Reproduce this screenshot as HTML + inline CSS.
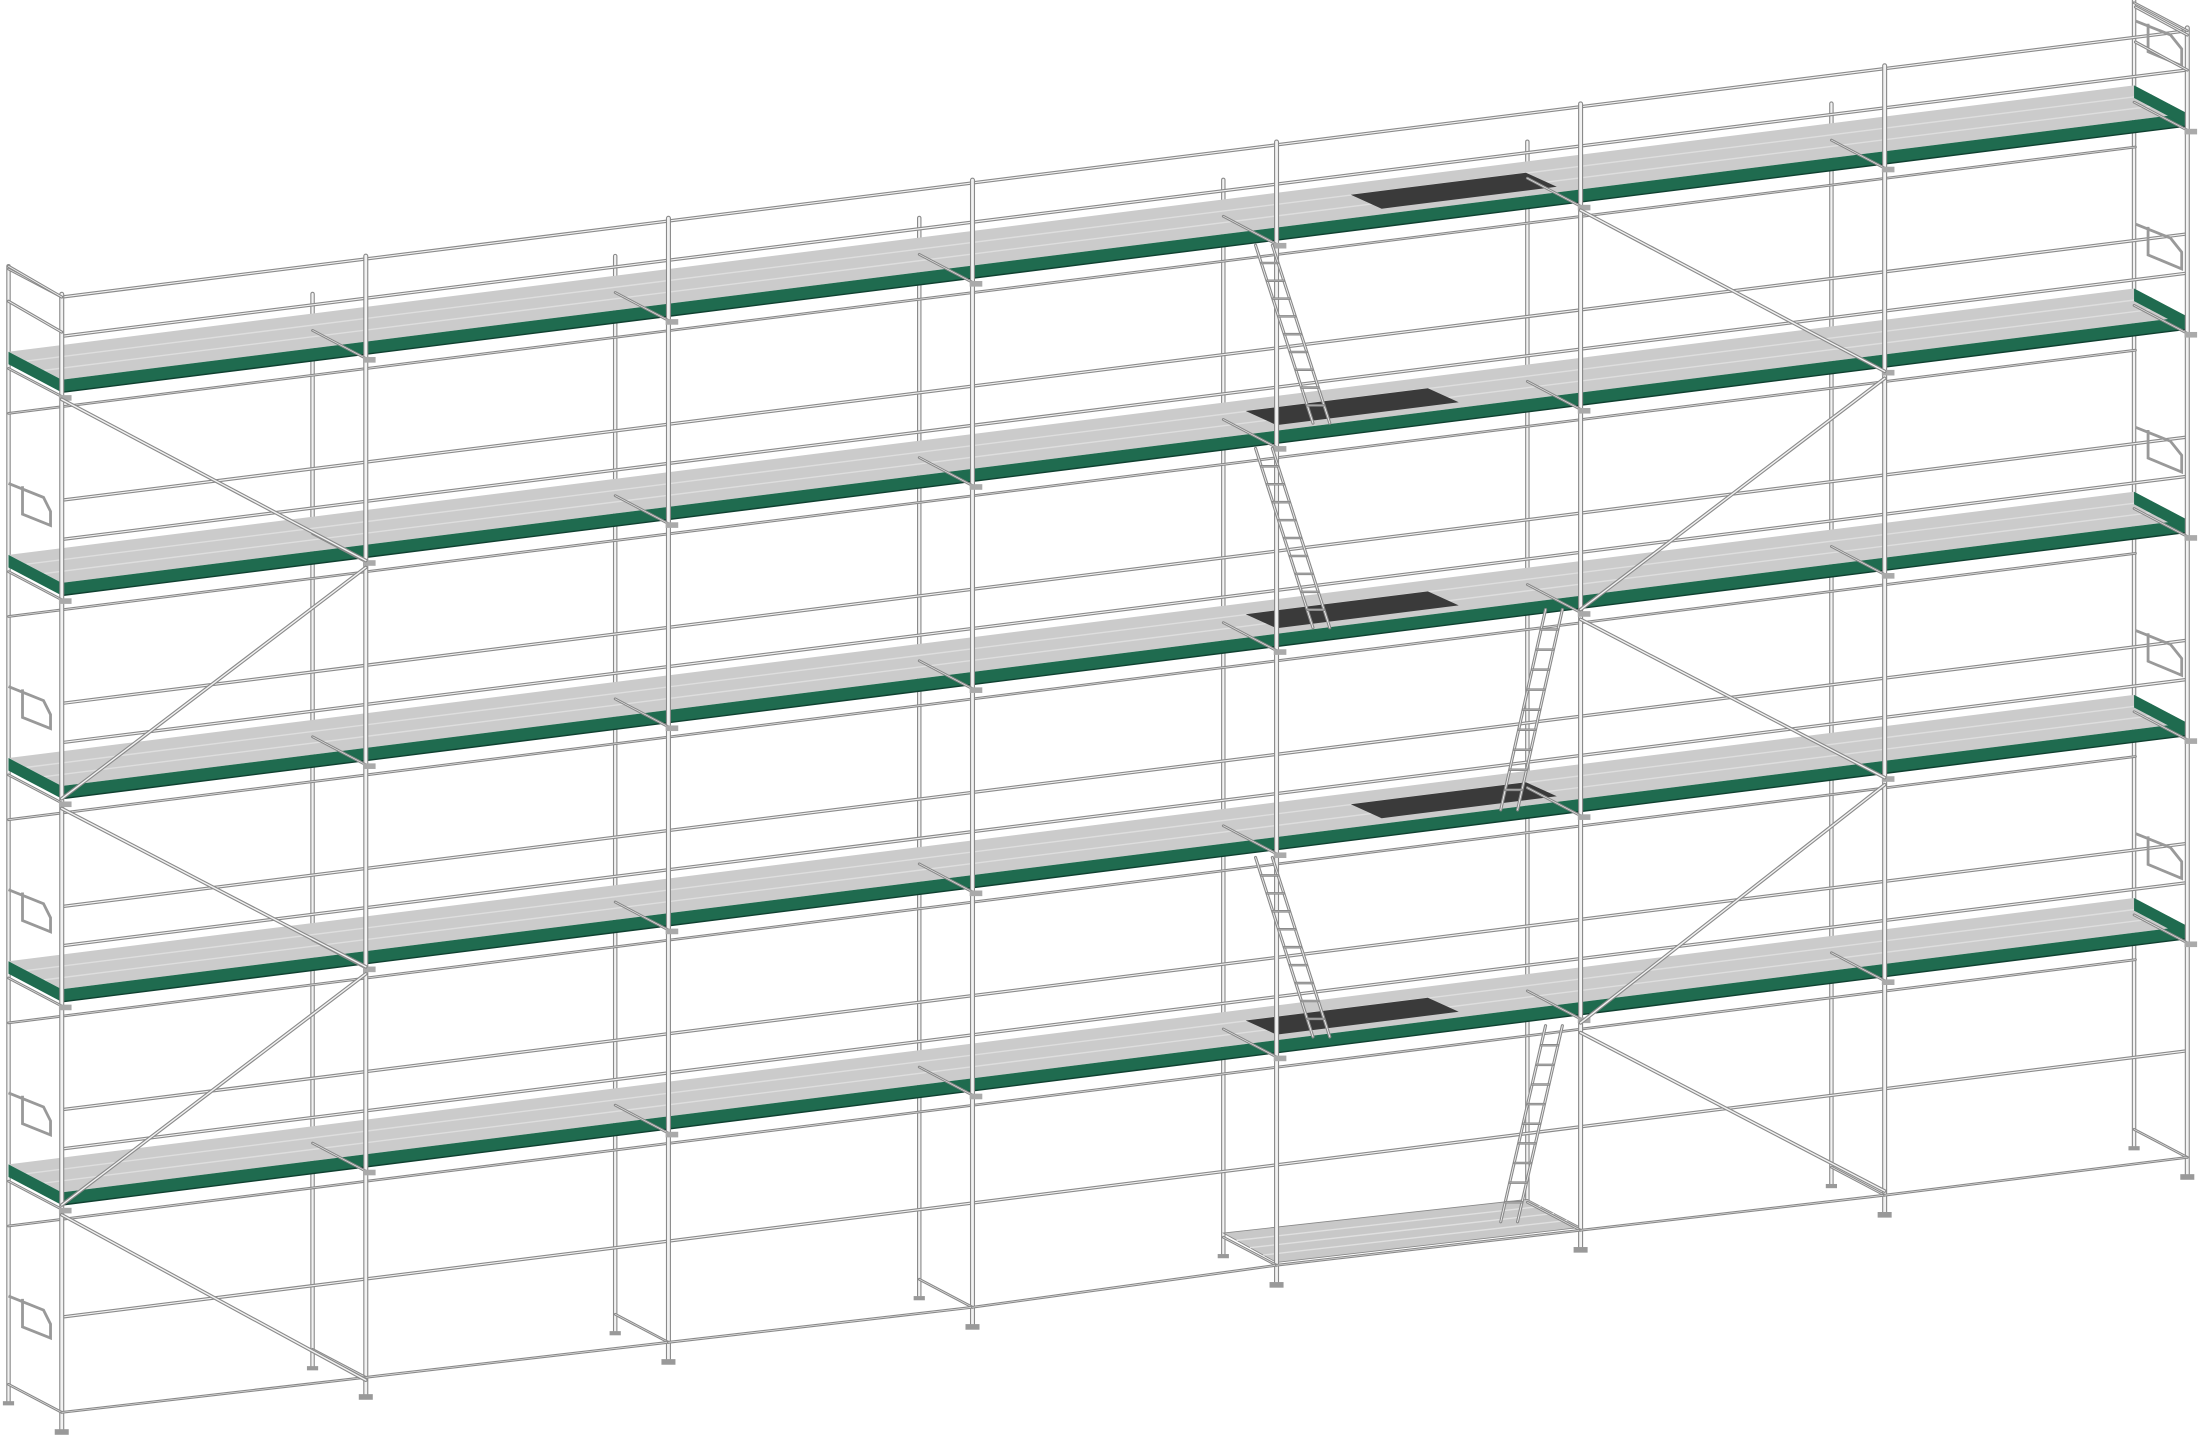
<!DOCTYPE html>
<html><head><meta charset="utf-8">
<style>
html,body{margin:0;padding:0;background:#fff;width:2200px;height:1446px;overflow:hidden}
svg{display:block}
</style></head>
<body>
<svg id="s" xmlns="http://www.w3.org/2000/svg" width="2200" height="1446" viewBox="0 0 1568 1032"></svg>
<script>
const s=document.getElementById('s');
let out='';
const f=x=>-0.1253*(x-43);
const FX=[43,260,476,693,910,1127,1344,1560];
const FB=[1020,995,970,945,915,890,865,838];
const DX=-38,DY=-20;
function tube(x1,y1,x2,y2,w){w=w||3.2;out+=`<line x1="${x1}" y1="${y1}" x2="${x2}" y2="${y2}" stroke="#8a8a8a" stroke-width="${w}" stroke-linecap="round"/><line x1="${x1}" y1="${y1}" x2="${x2}" y2="${y2}" stroke="#f2f2f2" stroke-width="${w-1.6}" stroke-linecap="round"/>`;}
function poly(pts,fill,st){out+=`<polygon points="${pts.map(p=>p.join(',')).join(' ')}" fill="${fill}" ${st?'stroke="'+st+'" stroke-width="0.6"':''}/>`;}
const deck=L=>x=>275+145*L+f(x);
// back posts
FX.forEach((x,i)=>{const end=(i==0||i==7);const top=end?210+f(x)+DY:deck(0)(x)+DY-18;tube(x+DX,top,x+DX,FB[i]+DY);
 out+=`<rect x="${x+DX-4}" y="${FB[i]+DY}" width="8" height="3" fill="#999"/>`;});
// bottom platform
poly([[872,880],[1089,856],[1127,876],[910,901]],'#c8c8c8','#888');
for(let k=1;k<4;k++){const t=k/4;out+=`<line x1="${872+38*t}" y1="${880+21*t}" x2="${1089+38*t}" y2="${856+20*t}" stroke="#e0e0e0" stroke-width="1"/>`;}
// decks
for(let L=0;L<5;L++){const y=deck(L);
 const x0=43,x1=1560;
 poly([[x0,y(x0)-4],[x1,y(x1)-4],[x1+DX,y(x1)-4+DY],[x0+DX,y(x0)-4+DY]],'#cbcbcb');
 for(let k=1;k<3;k++){const t=k/3;out+=`<line x1="${x0+DX*t}" y1="${y(x0)-4+DY*t}" x2="${x1+DX*t}" y2="${y(x1)-4+DY*t}" stroke="#dedede" stroke-width="1"/>`;}
 poly([[x0,y(x0)-4],[x1,y(x1)-4],[x1,y(x1)+5],[x0,y(x0)+5]],'#1f6b4f');
 poly([[x0,y(x0)-4],[x0+DX,y(x0)-4+DY],[x0+DX,y(x0)+5+DY],[x0,y(x0)+5]],'#1f6b4f');
 poly([[x1,y(x1)-4],[x1+DX,y(x1)-4+DY],[x1+DX,y(x1)+5+DY],[x1,y(x1)+5]],'#1f6b4f');
 out+=`<line x1="${x0}" y1="${y(x0)+5}" x2="${x1}" y2="${y(x1)+5}" stroke="#0f4030" stroke-width="1"/>`;
}
// dark hatches
function hatch(L,xa,xb){const y=deck(L);poly([[xa,y(xa)-8],[xb,y(xb)-8],[xb-22,y(xb)-18],[xa-22,y(xa)-18]],'#3a3a3a');}
hatch(0,985,1110);hatch(1,910,1040);hatch(2,910,1040);hatch(3,985,1110);hatch(4,910,1040);
// rails on front
for(let L=0;L<5;L++){const y=deck(L);
 [-63,-35].forEach(o=>tube(43,y(43)+o,1560,y(1560)+o,2.4));}
tube(43,940,1560,940+f(1560),2.4);
for(let L=0;L<5;L++){const y=deck(L);tube(5,y(43)+DY+40,1523,y(1560)+DY+40,2);}
// front posts
FX.forEach((x,i)=>{const top=210+f(x);tube(x,top,x,FB[i],3.6);
 out+=`<rect x="${x-5}" y="${FB[i]}" width="10" height="4" fill="#999"/>`;
 tube(x,FB[i]-12,x+DX,FB[i]-12+DY,2);
 for(let L=0;L<5;L++){const y=deck(L)(x);tube(x,y+8,x+DX,y+8+DY,2);
  out+=`<rect x="${x-2}" y="${y+7}" width="9" height="4" fill="#aaa"/>`;}
 if(i==0||i==7)tube(x,top+2,x+DX,top+2+DY,2);
});
for(let i=0;i<7;i++)tube(FX[i],FB[i]-12,FX[i+1],FB[i+1]-12,2);
function dg(xa,ya,xb,yb){tube(xa,ya,xb,yb,2.6);}
dg(43,285,260,400);dg(43,570,260,405);dg(43,577,260,690);dg(43,860,260,695);dg(43,867,260,985);
dg(1127,150,1344,265);dg(1127,435,1344,270);dg(1127,442,1344,555);dg(1127,730,1344,560);dg(1127,737,1344,850);
function lad(xa,ya,xb,yb){const w=12;tube(xa,ya,xb,yb,2.2);tube(xa+w,ya,xb+w,yb,2.2);
 for(let k=1;k<10;k++){const t=k/10;const x=xa+(xb-xa)*t,y=ya+(yb-ya)*t;tube(x,y,x+w,y,1.8);}}
lad(895,175,936,302);lad(895,320,936,448);lad(1102,435,1070,578);lad(895,612,936,740);lad(1102,732,1070,872);
for(let L=0;L<5;L++){const y=deck(L);
 const ly=y(43)+70,ry=y(1560)-70;
 out+=`<path d="M5 ${ly} L30 ${ly+10} L35 ${ly+20} L35 ${ly+30} L15 ${ly+22} L15 ${ly+2}" fill="none" stroke="#999" stroke-width="2"/>`;
 out+=`<path d="M1523 ${ry} L1548 ${ry+10} L1556 ${ry+20} L1556 ${ry+32} L1532 ${ry+22} L1532 ${ry+2}" fill="none" stroke="#999" stroke-width="2"/>`;
}
tube(5,190,43,212,2.2);tube(5,215,43,237,2.2);tube(1523,5,1560,25,2.2);tube(1523,30,1560,50,2.2);
s.innerHTML=out;
</script>
</body></html>
